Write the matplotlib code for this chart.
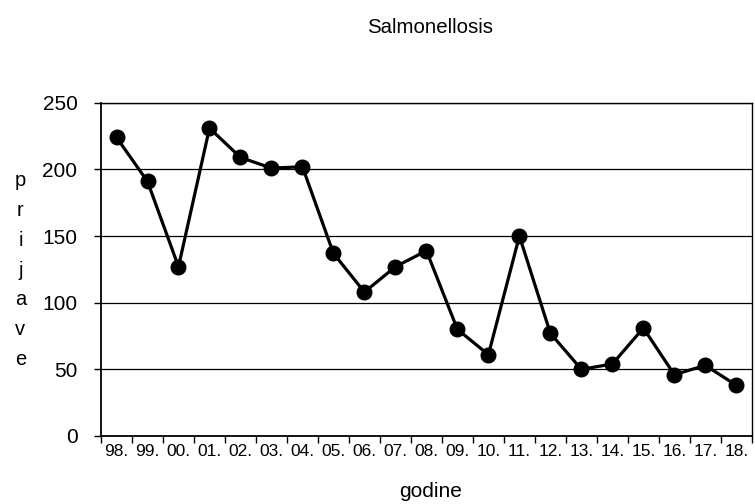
import numpy as np
import matplotlib
matplotlib.use('Agg')
import matplotlib.pyplot as plt

# data
godine = ['98.', '99.', '00.', '01.', '02.', '03.', '04.', '05.', '06.', '07.',
          '08.', '09.', '10.', '11.', '12.', '13.', '14.', '15.', '16.', '17.', '18.']
prijave = [224, 191, 127, 231, 209, 201, 202, 137, 108, 127,
           139, 80, 61, 150, 77, 50, 54, 81, 46, 53, 38]

plt.rcParams['font.family'] = ['Liberation Sans', 'DejaVu Sans']

fig = plt.figure(figsize=(7.55, 5.04), dpi=100)
ax = fig.add_axes([0.1338, 0.135, 0.862, 0.661])

x = np.arange(len(godine))
ax.plot(x, prijave, color='black', lw=2.3, marker='o', ms=10.5,
        markerfacecolor='black', markeredgecolor='black', zorder=3)

ax.set_xlim(-0.5, len(godine) - 0.5)
ax.set_ylim(0, 250)
ax.set_yticks(np.arange(0, 251, 50))
ax.yaxis.grid(True, color='black', lw=0.9)
ax.set_axisbelow(True)

# ticks between categories, labels at the centers
ax.set_xticks(np.arange(-0.5, len(godine)), minor=False)
ax.set_xticklabels([])
ax.set_xticks(x, minor=True)
ax.set_xticklabels(godine, minor=True, fontsize=12.5)
ax.tick_params(axis='x', which='major', direction='out', length=5, width=1)
ax.tick_params(axis='x', which='minor', length=0, pad=6)
ax.tick_params(axis='y', direction='out', length=5, width=1, labelsize=15, pad=12)

for s in ax.spines.values():
    s.set_color('black')
    s.set_linewidth(1.0)
ax.spines['left'].set_linewidth(1.3)
ax.spines['bottom'].set_linewidth(1.3)

fig.text(0.57, 0.946, 'Salmonellosis', ha='center', va='center', fontsize=14.7)
fig.text(0.57, 0.024, 'godine', ha='center', va='center', fontsize=15)
fig.text(0.027, 0.464, '\n'.join('prijave'), ha='center', va='center',
         fontsize=14.5, linespacing=1.72)

plt.savefig('out.png', dpi=100)
plt.close()
